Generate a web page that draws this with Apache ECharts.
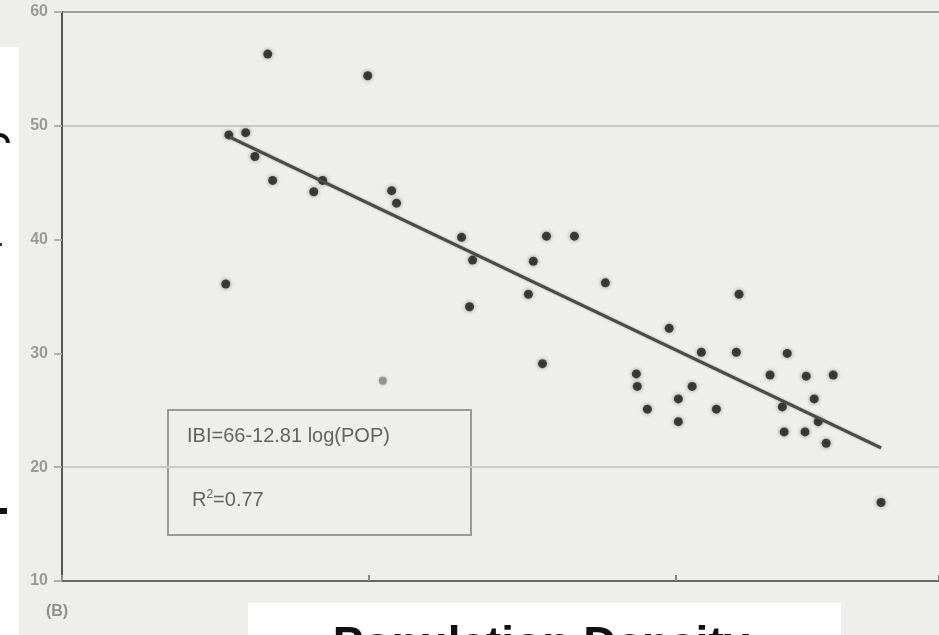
<!DOCTYPE html>
<html>
<head>
<meta charset="utf-8">
<script src="https://cdn.jsdelivr.net/npm/echarts@6/dist/echarts.min.js"></script>
<style>
html,body{margin:0;padding:0;background:#eeeeed;}
#chart{width:939px;height:635px;}
</style>
</head>
<body>
<div id="chart"></div>
<script>
// x = log10(population density), y = IBI score
const pointX = [0.671,0.997,0.544,0.599,0.629,0.687,0.821,0.850,1.075,1.091,1.303,1.339,1.329,1.580,1.671,1.537,1.521,0.534,1.772,1.567,2.208,1.980,2.085,2.199,2.365,1.873,1.876,2.055,1.909,2.010,2.010,2.134,2.309,2.427,2.515,2.453,2.349,2.466,2.355,2.423,2.492,2.671];
const pointY = [56.3,54.4,49.2,49.4,47.3,45.2,44.2,45.2,44.3,43.2,40.2,38.2,34.1,40.3,40.3,38.1,35.2,36.1,36.2,29.1,35.2,32.2,30.1,30.1,30.0,28.2,27.1,27.1,25.1,26.0,24.0,25.1,28.1,28.0,28.1,26.0,25.3,24.0,23.1,23.1,22.1,16.9];
const faintX = [1.046];
const faintY = [27.6];
const fitX = [0.547, 2.671];
const fitY = [49.0, 21.7];
const yTicks = [10, 20, 30, 40, 50, 60];

const pts = pointX.map((x, i) => [x, pointY[i]]);
const faint = faintX.map((x, i) => [x, faintY[i]]);
const fit = fitX.map((x, i) => [x, fitY[i]]);

const chart = echarts.init(document.getElementById('chart'));
chart.setOption({
  backgroundColor: '#eeeeed',
  animation: false,
  grid: {left: 62, right: 0, top: 12, bottom: 54},
  xAxis: {
    type: 'value', min: 0, max: 2.86, interval: 1,
    axisLine: {show: true, lineStyle: {color: '#666', width: 2}},
    axisTick: {show: true, inside: true, length: 6, lineStyle: {color: '#888', width: 2}},
    axisLabel: {show: false},
    splitLine: {show: false}
  },
  yAxis: {
    type: 'value', min: yTicks[0], max: yTicks[yTicks.length - 1], interval: 10,
    axisLine: {show: true, lineStyle: {color: '#555', width: 2}},
    axisTick: {show: true, length: 8, lineStyle: {color: '#b0b0b0', width: 2}},
    axisLabel: {color: '#9a9a9a', fontSize: 16, fontWeight: 'bold', margin: 14, fontFamily: 'Liberation Sans Narrow, Liberation Sans'},
    splitLine: {show: true, lineStyle: {color: ['rgba(0,0,0,0)', '#c9c9c9', 'rgba(0,0,0,0)', 'rgba(0,0,0,0)', '#c9c9c9', '#9f9f9f'], width: 2}}
  },
  series: [
    {
      type: 'line', data: fit, symbol: 'none', silent: true,
      lineStyle: {color: '#4a4a4a', width: 3, shadowBlur: 2, shadowColor: 'rgba(0,0,0,0.4)'}
    },
    {
      type: 'scatter', data: pts, symbolSize: 9,
      itemStyle: {color: '#1c1c1c', shadowBlur: 4, shadowColor: 'rgba(0,0,0,0.5)'}
    },
    {
      type: 'scatter', data: faint, symbolSize: 8,
      itemStyle: {color: '#8a8a8a', shadowBlur: 3, shadowColor: 'rgba(0,0,0,0.3)'}
    }
  ],
  graphic: [
    {type: 'rect', shape: {x: 168, y: 410, width: 303, height: 125},
      style: {fill: 'rgba(0,0,0,0)', stroke: '#9a9a9a', lineWidth: 2}},
    {type: 'text', style: {x: 187, y: 436, text: 'IBI=66-12.81 log(POP)', fill: '#636363',
      font: '20px "Liberation Sans"', textVerticalAlign: 'middle'}},
    {type: 'text', style: {x: 192, y: 500, text: 'R{s|2}=0.77', fill: '#636363',
      font: '20px "Liberation Sans"', textVerticalAlign: 'middle',
      rich: {s: {fontSize: 12, verticalAlign: 'top', padding: [0, 0, 10, 0], fill: '#636363', fontFamily: 'Liberation Sans'}}}},
    {type: 'text', style: {x: 57, y: 612, text: '(B)', fill: '#8f8f8f', font: 'bold 16px "Liberation Sans"',
      textAlign: 'center', textVerticalAlign: 'middle'}},
    {type: 'rect', shape: {x: 0, y: 47, width: 19, height: 600}, style: {fill: '#ffffff'}},
    {type: 'arc', shape: {cx: 0, cy: 143, r: 8, startAngle: -Math.PI / 2, endAngle: 0},
      style: {stroke: '#111', lineWidth: 4, fill: 'none'}},
    {type: 'rect', shape: {x: 0, y: 243, width: 2, height: 3}, style: {fill: '#333'}},
    {type: 'rect', shape: {x: 0, y: 508, width: 7, height: 6}, style: {fill: '#111'}},
    {type: 'rect', shape: {x: 248, y: 603, width: 593, height: 40}, style: {fill: '#ffffff'}},
    {type: 'text', style: {x: 541, y: 623, text: 'Population Density', fill: '#111',
      font: 'bold 46px "Liberation Sans"', textAlign: 'center', textVerticalAlign: 'top'}}
  ]
});
</script>
</body>
</html>
